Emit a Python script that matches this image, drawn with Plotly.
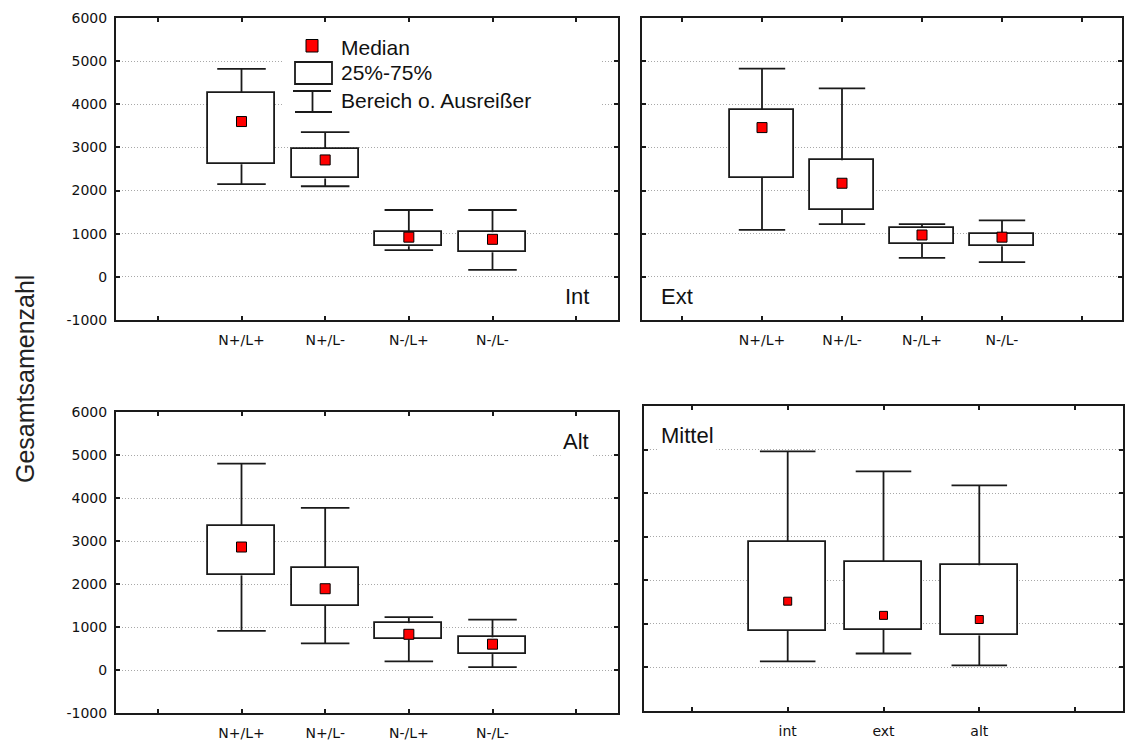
import plotly.graph_objects as go

W, H = 1145, 746          # browser window
OFF = 8                   # default body margin of the page
FW, FH = W - 2 * OFF, H - OFF  # figure starts at the body margin, reaches window bottom

# ---------------- data ----------------
categories = ["N+/L+", "N+/L-", "N-/L+", "N-/L-"]

int_lower = [2150, 2100, 620, 160]
int_q1 = [2610, 2280, 710, 570]
int_median = [3600, 2710, 920, 870]
int_q3 = [4270, 2975, 1035, 1035]
int_upper = [4820, 3355, 1550, 1550]

ext_lower = [1090, 1220, 440, 340]
ext_q1 = [2290, 1550, 760, 710]
ext_median = [3460, 2170, 970, 920]
ext_q3 = [3865, 2700, 1130, 990]
ext_upper = [4825, 4370, 1220, 1310]

alt_lower = [910, 620, 200, 65]
alt_q1 = [2200, 1500, 710, 370]
alt_median = [2860, 1890, 830, 600]
alt_q3 = [3350, 2380, 1090, 760]
alt_upper = [4800, 3770, 1230, 1170]

mittel_categories = ["int", "ext", "alt"]
mittel_lower = [140, 320, 45]
mittel_q1 = [835, 870, 735]
mittel_median = [1520, 1195, 1100]
mittel_q3 = [2890, 2430, 2345]
mittel_upper = [4960, 4500, 4180]

y_ticks = [-1000, 0, 1000, 2000, 3000, 4000, 5000, 6000]
y_ticktext = ["-1000", "0", "1000", "2000", "3000", "4000", "5000", "6000"]

# ---------------- styling ----------------
BOX_W = 0.8
CAP_HALF = 0.29
LINE = "#1a1a1a"
TICKFONT = dict(family="DejaVu Sans", size=14, color="#111111")
TEXTFONT = "Liberation Sans, Arial, sans-serif"


def px(x):
    return (x - OFF) / FW


def py(y):
    return 1 - (y - OFF) / FH


fig = go.Figure()


def add_panel(xa, ya, lower, q1, med, q3, upper, msize):
    idx = list(range(len(med)))
    # boxes (25%-75%)
    fig.add_trace(go.Bar(
        x=idx, base=q1, y=[b - a for a, b in zip(q1, q3)], width=BOX_W,
        marker=dict(color="white", line=dict(color=LINE, width=1.8)),
        xaxis=xa, yaxis=ya, hoverinfo="skip", showlegend=False))
    # whiskers + caps
    wx, wy = [], []
    for i in idx:
        wx += [i, i, None, i, i, None,
               i - CAP_HALF, i + CAP_HALF, None, i - CAP_HALF, i + CAP_HALF, None]
        wy += [q3[i], upper[i], None, q1[i], lower[i], None,
               upper[i], upper[i], None, lower[i], lower[i], None]
    fig.add_trace(go.Scatter(
        x=wx, y=wy, mode="lines", line=dict(color=LINE, width=1.8),
        xaxis=xa, yaxis=ya, hoverinfo="skip", showlegend=False))
    # medians
    fig.add_trace(go.Scatter(
        x=idx, y=med, mode="markers",
        marker=dict(symbol="square", size=msize, color="#ff0000",
                    line=dict(color="#000000", width=1)),
        xaxis=xa, yaxis=ya, showlegend=False))


add_panel("x", "y", int_lower, int_q1, int_median, int_q3, int_upper, 10)
add_panel("x2", "y2", ext_lower, ext_q1, ext_median, ext_q3, ext_upper, 10)
add_panel("x3", "y3", alt_lower, alt_q1, alt_median, alt_q3, alt_upper, 10)
add_panel("x4", "y4", mittel_lower, mittel_q1, mittel_median, mittel_q3,
          mittel_upper, 8)


def xaxis(domain, anchor, cats):
    n = len(cats)
    return dict(
        domain=domain, anchor=anchor, range=[-1.5, n + 0.5],
        tickmode="array", tickvals=list(range(-1, n + 1)),
        ticktext=[""] + cats + [""],
        ticks="inside", ticklen=4, tickwidth=1.5, tickcolor=LINE,
        showline=True, linecolor=LINE, linewidth=2, mirror="ticks",
        showgrid=False, zeroline=False, tickfont=TICKFONT,
        ticklabelstandoff=6, automargin=False, fixedrange=True)


def yaxis(domain, anchor, labels):
    return dict(
        domain=domain, anchor=anchor, range=[-1000, 6000],
        tickmode="array", tickvals=y_ticks, ticktext=y_ticktext,
        showticklabels=labels,
        ticks="inside", ticklen=4, tickwidth=1.5, tickcolor=LINE,
        showline=True, linecolor=LINE, linewidth=2, mirror="ticks",
        showgrid=True, gridcolor="#a8a8a8", gridwidth=1, griddash="1px,2px",
        zeroline=False, tickfont=TICKFONT, ticklabelstandoff=4,
        automargin=False, fixedrange=True)


fig.update_layout(
    width=FW, height=FH, autosize=False,
    margin=dict(l=0, r=0, t=0, b=0, pad=0),
    paper_bgcolor="white", plot_bgcolor="white",
    showlegend=False, bargap=0,
    xaxis=xaxis([px(116), px(618)], "y", categories),
    yaxis=yaxis([py(320), py(18)], "x", True),
    xaxis2=xaxis([px(642), px(1122)], "y2", categories),
    yaxis2=yaxis([py(320), py(18)], "x2", False),
    xaxis3=xaxis([px(116), px(618)], "y3", categories),
    yaxis3=yaxis([py(713), py(412)], "x3", True),
    xaxis4=xaxis([px(644), px(1123)], "y4", mittel_categories),
    yaxis4=yaxis([py(711), py(406)], "x4", False),
)


# ---------------- panel labels ----------------
def label(text, x, y, anchor):
    fig.add_annotation(text=text, x=px(x), y=py(y), xref="paper", yref="paper",
                       xanchor=anchor, yanchor="middle", showarrow=False,
                       bgcolor="white", borderpad=2,
                       font=dict(family=TEXTFONT, size=22, color="#111111"))


label("Int", 592, 296, "right")
label("Ext", 658, 296, "left")
label("Alt", 592, 441, "right")
label("Mittel", 658, 435, "left")

# y title
fig.add_annotation(text="Gesamtsamenzahl", x=px(25), y=py(379),
                   xref="paper", yref="paper", textangle=-90,
                   showarrow=False, xanchor="center", yanchor="middle",
                   font=dict(family=TEXTFONT, size=25, color="#222222"))

# ---------------- legend (manual) ----------------
shapes = [
    dict(type="rect", xref="paper", yref="paper", x0=px(282), x1=px(600),
         y0=py(120), y1=py(24), fillcolor="white", line=dict(width=0),
         layer="above"),
    dict(type="rect", xref="paper", yref="paper", x0=px(306), x1=px(318),
         y0=py(52), y1=py(39.5), fillcolor="#ff0000",
         line=dict(color="#000000", width=1), layer="above"),
    dict(type="rect", xref="paper", yref="paper", x0=px(295), x1=px(332),
         y0=py(84), y1=py(62), fillcolor="white",
         line=dict(color=LINE, width=1.8), layer="above"),
    dict(type="line", xref="paper", yref="paper", x0=px(293), x1=px(331),
         y0=py(91), y1=py(91), line=dict(color=LINE, width=1.8), layer="above"),
    dict(type="line", xref="paper", yref="paper", x0=px(312.5), x1=px(312.5),
         y0=py(91), y1=py(112), line=dict(color=LINE, width=1.8), layer="above"),
    dict(type="line", xref="paper", yref="paper", x0=px(295), x1=px(332),
         y0=py(112), y1=py(112), line=dict(color=LINE, width=1.8), layer="above"),
]
fig.update_layout(shapes=shapes)

for text, yc in [("Median", 47), ("25%-75%", 73), ("Bereich o. Ausreißer", 101)]:
    fig.add_annotation(text=text, x=px(339), y=py(yc), xref="paper",
                       yref="paper", xanchor="left", yanchor="middle",
                       showarrow=False,
                       font=dict(family=TEXTFONT, size=21, color="#111111"))

fig.write_html("out.html")
